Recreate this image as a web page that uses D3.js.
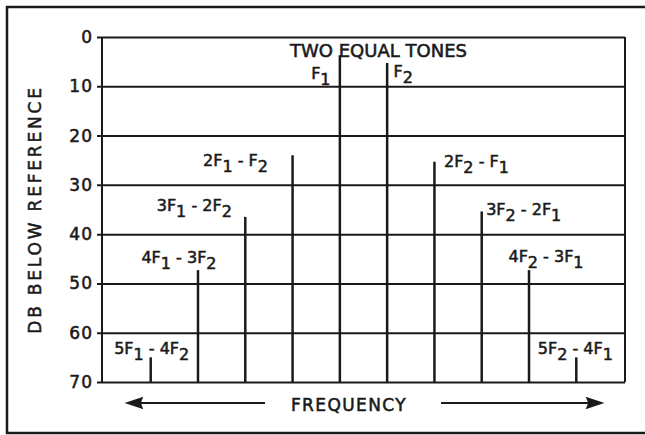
<!DOCTYPE html>
<html>
<head>
<meta charset="utf-8">
<script src="https://cdn.jsdelivr.net/npm/d3@7"></script>
<style>
  html, body { margin: 0; padding: 0; background: #fff; }
  svg { display: block; }
  text { font-family: "DejaVu Sans", sans-serif; fill: #1a1a1a; stroke: #1a1a1a; stroke-width: 0.55px; }
</style>
</head>
<body>
<div id="chart"></div>
<script>
// DATA: intermodulation products of two equal tones
const productLabels = ["5F_1 - 4F_2", "4F_1 - 3F_2", "3F_1 - 2F_2", "2F_1 - F_2", "F_1", "F_2",
                       "2F_2 - F_1", "3F_2 - 2F_1", "4F_2 - 3F_1", "5F_2 - 4F_1"];
const dbBelowRef = [65, 47.3, 36.5, 24, 3.7, 5.3, 25.3, 35.4, 47.3, 65];
const yTicks = [0, 10, 20, 30, 40, 50, 60, 70];
const titleText = "TWO EQUAL TONES";
const yTitle = "DB BELOW REFERENCE";
const xTitle = "FREQUENCY";

// label placement relative to top of each stem (layout only)
const labelDx = [1, -19, -51, -57, -19, 16, 42, 42, 17, -1];
const labelDy = [-3, -7, -6, 11, 24, 14, 5, 4, -8, -3];

const W = 645, H = 435;
const plot = { left: 102, right: 625, top: 37, bottom: 382 };
const ink = "#1a1a1a";

const svg = d3.select("#chart").append("svg")
    .attr("width", W)
    .attr("height", H);

const x = d3.scalePoint()
    .domain(productLabels)
    .range([plot.left, plot.right])
    .padding(1.03);

const y = d3.scaleLinear()
    .domain([0, 70])
    .range([plot.top, plot.bottom]);

// OUTER FRAME (right edge runs off the page)
svg.append("path")
    .attr("d", `M${W + 5},7 H7 V433 H${W + 5}`)
    .attr("fill", "none")
    .attr("stroke", ink)
    .attr("stroke-width", 2.5);

// GRID + Y AXIS
const yAxis = d3.axisLeft(y)
    .tickValues(yTicks)
    .tickSize(-(plot.right - plot.left))
    .tickPadding(9)
    .tickFormat(d => d);

const yg = svg.append("g")
    .attr("transform", `translate(${plot.left},0)`)
    .call(yAxis);

yg.select(".domain").remove();
yg.selectAll(".tick line")
    .attr("x1", -5)
    .attr("stroke", ink)
    .attr("stroke-width", 2);
yg.selectAll(".tick text")
    .attr("font-size", "17px")
    .attr("letter-spacing", "1px")
    .attr("font-family", "DejaVu Sans, sans-serif")
    .attr("fill", ink);

// plot box sides
svg.append("line")
    .attr("x1", plot.left).attr("x2", plot.left)
    .attr("y1", plot.top).attr("y2", plot.bottom)
    .attr("stroke", ink).attr("stroke-width", 2);
svg.append("line")
    .attr("x1", plot.right).attr("x2", plot.right)
    .attr("y1", plot.top).attr("y2", plot.bottom)
    .attr("stroke", ink).attr("stroke-width", 2);

// STEMS
svg.selectAll(".stem")
    .data(productLabels)
    .join("line")
    .attr("class", "stem")
    .attr("x1", d => x(d))
    .attr("x2", d => x(d))
    .attr("y1", (d, i) => y(dbBelowRef[i]))
    .attr("y2", y(70))
    .attr("stroke", ink)
    .attr("stroke-width", 2.5);

// STEM LABELS with subscripts
function addSubscripted(sel, str) {
    const parts = str.split(/(_\d)/).filter(p => p.length);
    let lowered = false;
    parts.forEach(p => {
        if (p[0] === "_") {
            sel.append("tspan").attr("dy", 6).text(p.slice(1));
            lowered = true;
        } else {
            sel.append("tspan").attr("dy", lowered ? -6 : 0).text(p);
            lowered = false;
        }
    });
}

svg.selectAll(".prod-label")
    .data(productLabels)
    .join("text")
    .attr("class", "prod-label")
    .attr("x", (d, i) => x(d) + labelDx[i])
    .attr("y", (d, i) => y(dbBelowRef[i]) + labelDy[i])
    .attr("text-anchor", "middle")
    .attr("font-size", "16px")
    .each(function(d) { addSubscripted(d3.select(this), d); });

// TITLE
svg.append("text")
    .attr("x", (x("F_1") + x("F_2")) / 2 + 15)
    .attr("y", 57)
    .attr("text-anchor", "middle")
    .attr("font-size", "18px")
    .text(titleText);

// Y TITLE
svg.append("text")
    .attr("transform", `translate(41,${(plot.top + plot.bottom) / 2}) rotate(-90)`)
    .attr("text-anchor", "middle")
    .attr("font-size", "17px")
    .attr("letter-spacing", "2.8px")
    .text(yTitle);

// FREQUENCY ARROWS
const arrowY = 403;
svg.append("text")
    .attr("x", 349)
    .attr("y", 411)
    .attr("text-anchor", "middle")
    .attr("font-size", "17px")
    .attr("letter-spacing", "1.4px")
    .text(xTitle);

svg.append("line")
    .attr("x1", 135).attr("x2", 265)
    .attr("y1", arrowY).attr("y2", arrowY)
    .attr("stroke", ink).attr("stroke-width", 2);
svg.append("path")
    .attr("d", `M127,${arrowY} L142,${arrowY - 5} L140,${arrowY} L142,${arrowY + 5} Z`)
    .attr("fill", ink)
    .attr("stroke", ink)
    .attr("stroke-width", 1.5);

svg.append("line")
    .attr("x1", 441).attr("x2", 594)
    .attr("y1", arrowY).attr("y2", arrowY)
    .attr("stroke", ink).attr("stroke-width", 2);
svg.append("path")
    .attr("d", `M602,${arrowY} L587,${arrowY - 5} L589,${arrowY} L587,${arrowY + 5} Z`)
    .attr("fill", ink)
    .attr("stroke", ink)
    .attr("stroke-width", 1.5);
</script>
</body>
</html>
